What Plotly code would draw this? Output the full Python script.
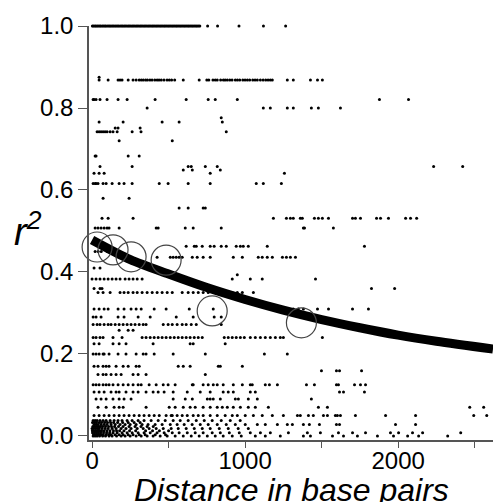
import plotly.graph_objects as go

# ---- scatter data: distance (bp) per r^2 band ----
d_100 = [2, 9, 18, 25, 33, 41, 50, 57, 66, 74, 83, 90, 99, 108, 116, 124, 133, 141, 150, 158, 167, 175,
         184, 193, 201, 210, 218, 227, 236, 244, 253, 262, 270, 279, 288, 296, 305, 314, 322, 331, 340,
         348, 357, 366, 374, 383, 392, 400, 409, 418, 426, 435, 444, 452, 461, 470, 478, 487, 496, 504,
         513, 522, 530, 539, 548, 556, 565, 574, 582, 591, 600, 608, 617, 626, 634, 643, 652, 660, 669,
         678, 686, 695, 704, 755, 820, 960, 1120, 1265]
d_0875 = [46]
d_0868 = [46, 105, 170, 183, 196, 236, 268, 288, 308, 322, 335, 350, 362, 378, 392, 410, 425, 438, 452,
          470, 490, 505, 520, 540, 596, 700, 750, 763, 790, 805, 818, 840, 858, 870, 884, 900, 915, 936,
          950, 965, 985, 1000, 1015, 1030, 1050, 1065, 1080, 1100, 1118, 1135, 1150, 1165, 1178, 1276,
          1315, 1427, 1473, 1505]
d_0821 = [7, 13, 26, 52, 98, 170, 229, 412, 615, 759, 805, 949, 1878, 2068]
d_0800 = [360, 1119, 1165, 1276, 1315, 1433, 1479, 1623]
d_0776 = [844]
d_0766 = [46, 203, 458, 569, 851]
d_0751 = [151, 170, 314]
d_0742 = [33, 46, 59, 72, 85, 98, 118, 137, 164, 262, 320, 877]
d_0720 = [177, 524]
d_0683 = [20, 26, 236, 308]
d_0657 = [52, 262, 628, 648, 740, 818, 2232, 2422]
d_0649 = [596, 655, 838]
d_0641 = [13, 46, 79, 772, 1257]
d_0616 = [7, 20, 26, 39, 72, 92, 131, 177, 209, 262, 439, 497, 628, 772, 1073, 1119, 1237]
d_0580 = [72, 242]
d_0556 = [569, 628, 726, 740]
d_0531 = [65, 105, 268, 1185, 1270, 1296, 1315, 1361, 1374, 1453, 1479, 1505, 1545, 1702, 1721, 1754,
          1859, 1885, 1937, 2049, 2081, 2121]
d_0507 = [20, 39, 59, 79, 98, 111, 177, 419, 432, 609, 661, 844, 1381, 1388, 1577]
d_0463 = [615, 668, 681, 720, 772, 798, 844, 877, 942, 969, 988, 1021, 1145, 1780]
d_0450 = [20, 40, 60, 100, 130]
d_0436 = [425, 511, 530, 550, 569, 589, 655, 687, 726, 772, 923, 982, 1086, 1112, 1145, 1178, 1244,
          1270, 1296, 1329]
d_0410 = [13, 52]
d_0393 = [949]
d_0383 = [0, 26, 52, 79, 105, 131, 157, 183, 216, 242, 268, 295, 327, 916, 1034, 1112, 1460]
d_0360 = [13, 52, 65, 1826, 1977]
d_0350 = [39, 72, 118, 183, 209, 236, 268, 295, 327, 360, 393, 425, 458, 491, 524, 589, 628, 661, 694,
          726, 759, 792, 825, 851, 916, 949, 982, 1054]
d_0310 = [13, 46, 79, 105, 170, 209, 255, 288, 321, 406, 484, 635, 792, 1283, 1315, 1348, 1381, 1473,
          1545, 1702, 1806]
d_0290 = [7, 26, 59, 170, 209, 301, 380, 550, 661, 798, 844]
d_0272 = [7, 33, 52, 79, 105, 124, 151, 177, 203, 229, 255, 281, 308, 334, 353, 465, 497, 524, 556, 589,
          615, 648, 681, 844]
d_0258 = [177, 236, 268]
d_0240 = [7, 26, 52, 72, 137, 196, 327, 353, 380, 406, 432, 458, 484, 511, 537, 563, 589, 615, 641, 668,
          694, 720, 864, 890, 916, 942, 969, 995, 1034, 1067, 1100, 1132, 1165, 1198, 1230, 1250, 1505]
d_0225 = [13, 46, 137, 177, 222, 399, 641, 661, 870]
d_0200 = [7, 26, 46, 72, 79, 111, 170, 222, 288, 334, 353, 406, 530, 740, 1126, 1276]
d_0170 = [13, 39, 72, 92, 111, 157, 203, 236, 288, 308, 563, 596, 641, 825, 838, 982]
d_0159 = [1499, 1597, 1617, 1761]
d_0150 = [39, 72, 92, 124, 157, 190, 268, 301, 353, 740]
d_0125 = [7, 26, 46, 72, 92, 111, 137, 170, 203, 236, 268, 301, 321, 373, 419, 465, 497, 543, 655, 661,
          726, 759, 792, 818, 857, 923, 982, 1047, 1034, 1132, 1159, 1211, 1401, 1453, 1597, 1610, 1715,
          1754, 1787]
d_0107 = [13, 46, 79, 124, 157, 177, 222, 268, 301, 353, 399, 432, 471, 530, 622, 707, 772, 857, 890,
          923, 1034, 1067, 1617, 1643, 1780]
d_0090 = [26, 59, 92, 137, 177, 209, 255, 530, 609, 655, 753, 772, 792, 838, 936, 956, 1021, 1080, 1433]
d_0070 = [39, 92, 144, 177, 203, 353, 504, 543, 596, 641, 674, 726, 772, 818, 851, 884, 923, 969, 1021,
          1067, 1152, 1479, 1538, 2468, 2559]
d_0050 = [13, 46, 79, 111, 144, 177, 209, 242, 275, 308, 340, 373, 406, 439, 484, 517, 524, 556, 589,
          622, 661, 694, 726, 772, 818, 870, 916, 949, 1001, 1054, 1112, 1178, 1250, 1342, 1361, 1414,
          1446, 1512, 1538, 1590, 1603, 1623, 1721, 1918, 2114, 2494, 2579]
d_0038 = [7, 20, 33, 52, 72, 92, 118, 144, 170, 196, 229, 262, 301, 340, 386, 432, 478, 530, 576, 628,
          681, 733, 785, 844, 903, 968]
d_0033 = [3, 16, 29, 46, 62, 82, 101, 121, 141, 167, 200, 236, 275, 314]
d_0028 = [13, 26, 39, 59, 79, 98, 124, 151, 183, 216, 249, 288, 327, 366, 412, 458, 511, 556, 602, 654,
          707, 759, 818, 877, 936, 1001, 1080, 1132, 1211, 1276, 1309, 1381, 1420, 1486, 1597, 1617,
          1983, 2114]
d_0023 = [5, 18, 31, 44, 54, 69, 88, 108, 127, 147, 173, 203, 242, 281, 320, 360, 400]
d_0018 = [0, 10, 23, 36, 46, 65, 85, 105, 131, 157, 190, 222, 255, 295, 334, 373, 419, 465, 517, 563,
          615, 668, 720, 772, 831, 890, 955, 1021]
d_0013 = [2, 14, 27, 40, 52, 62, 78, 97, 117, 140, 160, 180, 209, 245, 285, 350, 395, 440, 500]
d_0008 = [3, 16, 29, 42, 56, 75, 95, 115, 137, 164, 196, 229, 262, 301, 340, 380, 425, 471, 524, 569,
          622, 674, 726, 785, 838, 897, 962, 1034, 1100, 1165, 1283, 1407, 1492, 1610, 1702, 1787, 1950,
          2003, 2094, 2160, 2409]
d_0003 = [9, 22, 35, 48, 59, 72, 91, 108, 124, 150, 177, 203, 236, 268, 308, 347, 413, 480]
d_0000 = [7, 20, 33, 49, 69, 88, 111, 131, 160, 190, 216, 249, 288, 321, 360, 399, 445, 491, 543, 596,
          648, 700, 753, 805, 857, 916, 975, 1067, 1132, 1230, 1381, 1427, 1571, 1643, 1734, 1865, 1970,
          2062, 2134, 2324]

bands = [
    (1.000, d_100), (0.875, d_0875), (0.868, d_0868), (0.821, d_0821), (0.800, d_0800),
    (0.776, d_0776), (0.766, d_0766), (0.751, d_0751), (0.742, d_0742), (0.720, d_0720),
    (0.683, d_0683), (0.657, d_0657), (0.649, d_0649), (0.641, d_0641), (0.616, d_0616),
    (0.580, d_0580), (0.556, d_0556), (0.531, d_0531), (0.507, d_0507), (0.463, d_0463),
    (0.450, d_0450), (0.436, d_0436), (0.410, d_0410), (0.393, d_0393), (0.383, d_0383),
    (0.360, d_0360), (0.350, d_0350), (0.310, d_0310), (0.290, d_0290), (0.272, d_0272),
    (0.258, d_0258), (0.240, d_0240), (0.225, d_0225), (0.200, d_0200), (0.170, d_0170),
    (0.159, d_0159), (0.150, d_0150), (0.125, d_0125), (0.107, d_0107), (0.090, d_0090),
    (0.070, d_0070), (0.050, d_0050), (0.038, d_0038), (0.033, d_0033), (0.028, d_0028),
    (0.023, d_0023), (0.018, d_0018), (0.013, d_0013), (0.008, d_0008), (0.003, d_0003),
    (0.000, d_0000),
]

# ---- fitted decay curve, read at several distances ----
fit_d = [0, 250, 500, 750, 1000, 1250, 1500, 1750, 2000, 2250, 2620]
fit_r = [0.478, 0.430, 0.395, 0.362, 0.333, 0.307, 0.284, 0.264, 0.246, 0.231, 0.212]

# ---- binned means (open circles) ----
circ_d = [33, 137, 255, 484, 785, 1368]
circ_r = [0.461, 0.454, 0.437, 0.429, 0.305, 0.276]

# ---- axis ticks ----
x_ticks = [0, 1000, 2000]
x_labels = ["0", "1000", "2000"]
y_ticks = [0.0, 0.2, 0.4, 0.6, 0.8, 1.0]
y_labels = ["0.0", "0.2", "0.4", "0.6", "0.8", "1.0"]

px_x, px_y = [], []
for r, ds in bands:
    px_x.extend(ds)
    px_y.extend([r] * len(ds))

FONT = "Liberation Sans, Arial, Helvetica, sans-serif"
AX = "#555555"

fig = go.Figure()
fig.add_trace(go.Scatter(
    x=px_x, y=px_y, mode="markers", cliponaxis=False,
    marker=dict(size=3, color="black", line=dict(width=0)),
    showlegend=False, hoverinfo="skip"))
fig.add_trace(go.Scatter(
    x=fit_d, y=fit_r, mode="lines", line=dict(color="black", width=9, shape="spline", smoothing=0.8),
    showlegend=False, hoverinfo="skip"))
fig.add_trace(go.Scatter(
    x=circ_d, y=circ_r, mode="markers", cliponaxis=False,
    marker=dict(symbol="circle-open", size=30, color="#444444", line=dict(width=1.2, color="#444444")),
    showlegend=False, hoverinfo="skip"))

fig.update_layout(
    width=493, height=502,
    margin=dict(l=89, r=0, t=26, b=62),
    paper_bgcolor="white", plot_bgcolor="white",
    font=dict(family=FONT, color="black"),
    xaxis=dict(range=[-20, 2620], showgrid=False, zeroline=False,
               showline=True, linecolor=AX, linewidth=1.5,
               ticks="outside", ticklen=6, tickwidth=1.2, tickcolor=AX,
               tickvals=x_ticks, ticktext=x_labels, tickfont=dict(size=24, family=FONT),
               ticklabelstandoff=-8,
               minor=dict(ticks="outside", dtick=500, tick0=0, ticklen=6, tickwidth=1.2,
                          tickcolor=AX, showgrid=False)),
    yaxis=dict(range=[-0.0098, 1.0], showgrid=False, zeroline=False,
               showline=True, linecolor=AX, linewidth=1.5,
               ticks="outside", ticklen=9, tickwidth=1.2, tickcolor=AX,
               tickvals=y_ticks, ticktext=y_labels, tickfont=dict(size=24, family=FONT)),
    annotations=[
        dict(text="<i>Distance in base pairs</i>", xref="paper", yref="paper",
             x=0.5, y=-0.12, xanchor="center", yanchor="middle", showarrow=False,
             font=dict(size=32, family=FONT, color="black")),
        dict(text="<i>r<sup>2</sup></i>", xref="paper", yref="paper",
             x=-0.19, y=0.51, xanchor="left", yanchor="middle", showarrow=False,
             font=dict(size=38, family=FONT, color="black")),
    ],
)

fig.write_html("out.html", config={"displayModeBar": False},
               post_script="document.body.style.margin='0';document.body.style.overflow='hidden';")
